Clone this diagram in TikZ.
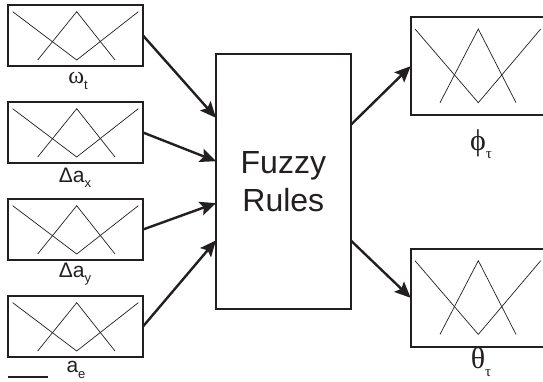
\documentclass[tikz,border=0pt]{standalone}
\usepackage{fontspec}
\setmainfont{Liberation Sans}
\newfontfamily\grk{Liberation Serif}
\usetikzlibrary{arrows.meta,calc}
\definecolor{ink}{HTML}{231F20}
\newcommand\lsub[2]{\raisebox{-0.25em}{\fontsize{#1}{#1}\selectfont #2}}
\begin{document}
\begin{tikzpicture}[x=1pt,y=-1pt,
  inbox/.style={draw=ink, line width=1.8pt, minimum width=135pt, minimum height=61pt,
    anchor=north west, inner sep=0pt, outer sep=0pt},
  outbox/.style={draw=ink, line width=1.8pt, minimum width=140pt, minimum height=97.7pt,
    anchor=north west, inner sep=0pt, outer sep=0pt},
  rulebox/.style={draw=ink, line width=2pt, minimum width=134.7pt, minimum height=255.3pt,
    anchor=north west, inner sep=0pt, outer sep=0pt, align=center, text=ink,
    font=\fontsize{32}{38}\selectfont},
  mf/.style={draw=ink, line width=0.7pt},
  arr/.style={draw=ink, line width=2.4pt, -{Stealth[length=16pt,width=14pt,inset=3pt]}},
  lab/.style={text=ink, inner sep=0pt, font=\fontsize{21}{21}\selectfont},
  glab/.style={text=ink, inner sep=0pt, font=\grk\fontsize{30}{30}\selectfont}]
\useasboundingbox (0,0) rectangle (543,382);
\clip (0,0) rectangle (543,382);
\fill[white] (0,0) rectangle (543,382);

% input membership boxes
\foreach \i/\y in {1/5,2/102,3/199,4/296}{
  \node[inbox] (L\i) at (8,\y) {};
  \draw[mf] ($(L\i.north west)+(4.7,6.7)$) -- ($(L\i.north west)+(68.7,55)$) -- ($(L\i.north west)+(130.3,6.7)$);
  \draw[mf] ($(L\i.north west)+(29.7,55)$) -- ($(L\i.north west)+(68.7,6.7)$) -- ($(L\i.north west)+(107,55)$);
}

% output membership boxes
\foreach \i/\y in {1/17.3,2/249}{
  \node[outbox] (R\i) at (410.7,\y) {};
  \draw[mf] ($(R\i.north west)+(4.3,11.7)$) -- ($(R\i.north west)+(67.6,85.4)$) -- ($(R\i.north west)+(130,11.7)$);
  \draw[mf] ($(R\i.north west)+(29.3,85.4)$) -- ($(R\i.north west)+(67.6,11.7)$) -- ($(R\i.north west)+(105.3,85.4)$);
}

% rule block
\node[rulebox] (F) at (216,54) {Fuzzy\\Rules};

% entry / exit points on the rule block
\coordinate (F1) at ($(F.north west)!0.25!(F.south west)$);
\coordinate (F2) at ($(F.north west)!0.42!(F.south west)$);
\coordinate (F3) at ($(F.north west)!0.584!(F.south west)$);
\coordinate (F4) at ($(F.north west)!0.73!(F.south west)$);
\coordinate (G1) at ($(F.north east)!0.278!(F.south east)$);
\coordinate (G2) at ($(F.north east)!0.73!(F.south east)$);

\draw[arr] (L1.east) -- (F1);
\draw[arr] (L2.east) -- (F2);
\draw[arr] (L3.east) -- (F3);
\draw[arr] (L4.east) -- (F4);
\draw[arr] (G1) -- (R1.west);
\draw[arr] (G2) -- (R2.west);

% labels
\node[lab] (tw) at (78,81) {{\grk\fontsize{24}{24}\selectfont ω}\lsub{13}{t}};
\node[lab] (tax) at (75,178) {Δa\lsub{13}{x}};
\node[lab] (tay) at (75,274) {Δa\lsub{13}{y}};
\node[lab] (tae) at (76,370) {a\lsub{13}{e}};
\node[glab] (tphi) at (481,144) {ϕ\lsub{15}{τ}};
\node[glab] (ttheta) at (481,362) {θ\lsub{15}{τ}};

% stray mark at lower left
\coordinate (m1) at (8,377);
\coordinate (m2) at (48,377);
\draw[draw=ink, line width=1.6pt] (m1) -- (m2);
\end{tikzpicture}
\end{document}
